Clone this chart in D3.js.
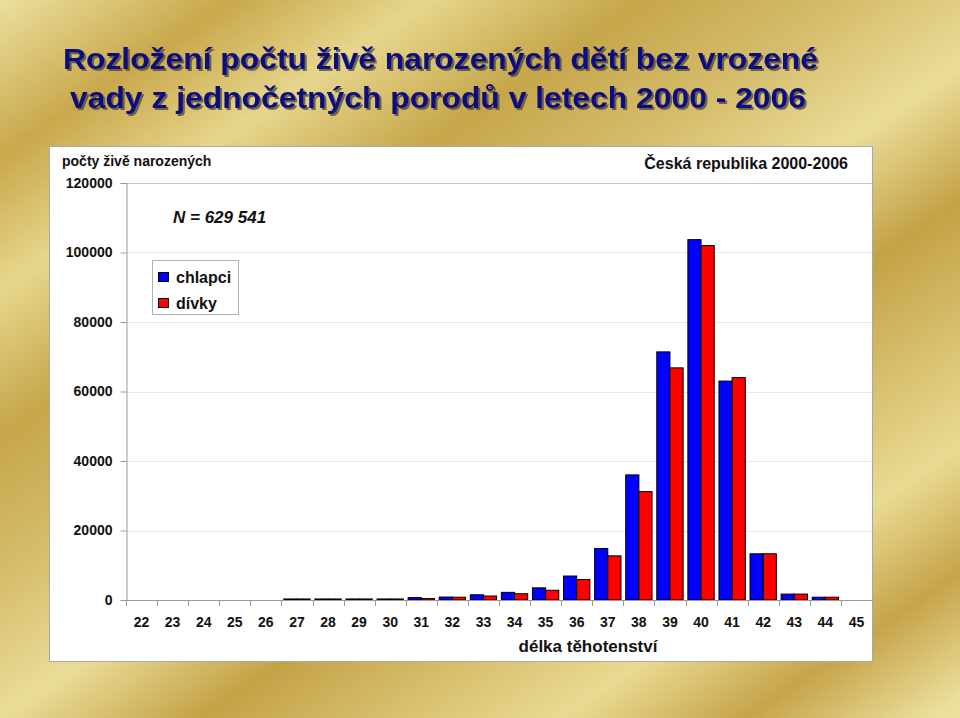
<!DOCTYPE html>
<html>
<head>
<meta charset="utf-8">
<script src="https://cdn.jsdelivr.net/npm/d3@7"></script>
<style>
  html, body { margin: 0; padding: 0; background: #fff; }
  svg { display: block; font-family: "Liberation Sans", Arial, sans-serif; }
</style>
</head>
<body>
<svg id="chart" width="960" height="718"></svg>
<script>
// ---- data ----
const weeks = ["22","23","24","25","26","27","28","29","30","31","32","33","34","35","36","37","38","39","40","41","42","43","44","45"];
const boys  = [0,0,0,0,0,300,300,300,300,700,850,1500,2200,3500,6900,14800,36000,71400,103700,63000,13300,1700,800,0];
const girls = [0,0,0,0,0,300,300,300,300,400,800,1150,1800,2800,5900,12700,31200,66800,102000,64000,13300,1700,800,0];
const seriesNames = ["chlapci", "dívky"];
const yTicks = [0, 20000, 40000, 60000, 80000, 100000, 120000];
const titleLines = ["Rozložení počtu živě narozených dětí bez vrozené", "vady z jednočetných porodů v letech 2000 - 2006"];

const svg = d3.select("#chart");
const W = 960, H = 718;

// ---- background gradient ----
const defs = svg.append("defs");
const L = 1134, dx = 0.5624, dy = 0.827;
const grad = defs.append("linearGradient").attr("id", "gold")
  .attr("gradientUnits", "userSpaceOnUse")
  .attr("x1", 0).attr("y1", 0).attr("x2", dx * L).attr("y2", dy * L);
[[0,"#ebdf9e"],[130,"#c9a84c"],[240,"#e6d68c"],[360,"#c6a64a"],[480,"#d6bd6c"],[594,"#eadc98"],[706,"#c4a246"],[909,"#e9da92"],[1013,"#c6a44a"],[1117,"#ebdf9c"],[1134,"#ebdf9c"]]
  .forEach(([t,c]) => grad.append("stop").attr("offset", t / L).attr("stop-color", c));
svg.append("rect").attr("width", W).attr("height", H).attr("fill", "url(#gold)");

const shadow = defs.append("filter").attr("id", "shadow")
  .attr("x", "-5%").attr("y", "-30%").attr("width", "110%").attr("height", "160%");
shadow.append("feDropShadow").attr("dx", 2).attr("dy", 2).attr("stdDeviation", 0.6)
  .attr("flood-color", "#4a4430").attr("flood-opacity", 0.75);

// ---- title ----
const titleG = svg.append("g").attr("font-weight", "bold").attr("font-size", 29);
const tl = [{x: 63, y: 69, w: 755}, {x: 70, y: 108, w: 736}];
titleLines.forEach((t, i) => {
  titleG.append("text").attr("x", tl[i].x).attr("y", tl[i].y)
    .attr("textLength", tl[i].w).attr("lengthAdjust", "spacingAndGlyphs")
    .attr("fill", "#0a0a80").attr("filter", "url(#shadow)").text(t);
});

// ---- panel ----
svg.append("rect").attr("x", 49.5).attr("y", 146.5).attr("width", 823).attr("height", 515)
  .attr("fill", "#fff").attr("stroke", "#a8a8a8").attr("stroke-width", 1);

// ---- scales ----
const plot = {left: 126, right: 872, top: 183, bottom: 600};
const x = d3.scaleBand().domain(weeks).range([plot.left, plot.right]).padding(0);
const xIn = d3.scaleBand().domain(seriesNames).range([0, x.bandwidth()]).paddingInner(0).paddingOuter(0.18);
const y = d3.scaleLinear().domain([0, 120000]).range([plot.bottom, plot.top]);

// gridlines
svg.append("g").selectAll("line").data(yTicks.filter(d => d > 0)).join("line")
  .attr("x1", plot.left).attr("x2", plot.right)
  .attr("y1", d => Math.round(y(d)) + 0.5).attr("y2", d => Math.round(y(d)) + 0.5)
  .attr("stroke", d => d === 120000 ? "#c8c8c8" : "#e8e8e8");

// y axis
const yAxis = svg.append("g").attr("transform", `translate(${plot.left + 0.5},0)`)
  .call(d3.axisLeft(y).tickValues(yTicks).tickSize(6).tickPadding(8).tickFormat(d3.format("d")));
yAxis.select(".domain").attr("stroke", "#999");
yAxis.selectAll(".tick line").attr("stroke", "#999");
yAxis.selectAll(".tick text").attr("font-family", "Liberation Sans, Arial, sans-serif")
  .attr("font-size", 14).attr("font-weight", "bold").attr("fill", "#111");

// bars
const colors = {"chlapci": "#0000ff", "dívky": "#ff0000"};
const rows = weeks.map((w, i) => ({w, vals: [{s: "chlapci", v: boys[i]}, {s: "dívky", v: girls[i]}]}));
const barG = svg.append("g");
rows.forEach(r => {
  r.vals.forEach(d => {
    if (d.v <= 0) return;
    barG.append("rect")
      .attr("x", x(r.w) + xIn(d.s))
      .attr("y", y(d.v))
      .attr("width", xIn.bandwidth())
      .attr("height", y(0) - y(d.v))
      .attr("fill", colors[d.s])
      .attr("stroke", "#000").attr("stroke-width", 1);
  });
});

// x axis
const xAxisG = svg.append("g");
xAxisG.append("line").attr("x1", plot.left).attr("x2", plot.right + 1)
  .attr("y1", plot.bottom + 0.5).attr("y2", plot.bottom + 0.5).attr("stroke", "#999");
xAxisG.selectAll("line.tk").data(weeks).join("line").attr("class", "tk")
  .attr("x1", d => Math.round(x(d)) + 0.5).attr("x2", d => Math.round(x(d)) + 0.5)
  .attr("y1", plot.bottom).attr("y2", plot.bottom + 6).attr("stroke", "#999");
xAxisG.selectAll("text").data(weeks).join("text")
  .attr("x", d => x(d) + x.bandwidth() / 2).attr("y", 627)
  .attr("text-anchor", "middle").attr("font-size", 14).attr("font-weight", "bold").attr("fill", "#111")
  .text(d => d);

// axis titles
svg.append("text").attr("x", 588).attr("y", 652).attr("text-anchor", "middle")
  .attr("font-size", 17).attr("font-weight", "bold").attr("fill", "#111").text("délka těhotenství");
svg.append("text").attr("x", 62).attr("y", 166)
  .attr("font-size", 14).attr("font-weight", "bold").attr("fill", "#111").text("počty živě narozených");
svg.append("text").attr("x", 848).attr("y", 169).attr("text-anchor", "end")
  .attr("font-size", 16).attr("font-weight", "bold").attr("fill", "#111").text("Česká republika 2000-2006");
svg.append("text").attr("x", 173).attr("y", 223)
  .attr("font-size", 17).attr("font-weight", "bold").attr("font-style", "italic").attr("fill", "#111").text("N = 629 541");

// legend
const lg = svg.append("g");
lg.append("rect").attr("x", 152.5).attr("y", 260.5).attr("width", 86).attr("height", 54)
  .attr("fill", "#fff").attr("stroke", "#b0b0b0");
seriesNames.forEach((s, i) => {
  lg.append("rect").attr("x", 158.5).attr("y", 272.5 + i * 26).attr("width", 10).attr("height", 9)
    .attr("fill", colors[s]).attr("stroke", "#000");
  lg.append("text").attr("x", 176).attr("y", 283 + i * 26)
    .attr("font-size", 16).attr("font-weight", "bold").attr("fill", "#111").text(s);
});
</script>
</body>
</html>
